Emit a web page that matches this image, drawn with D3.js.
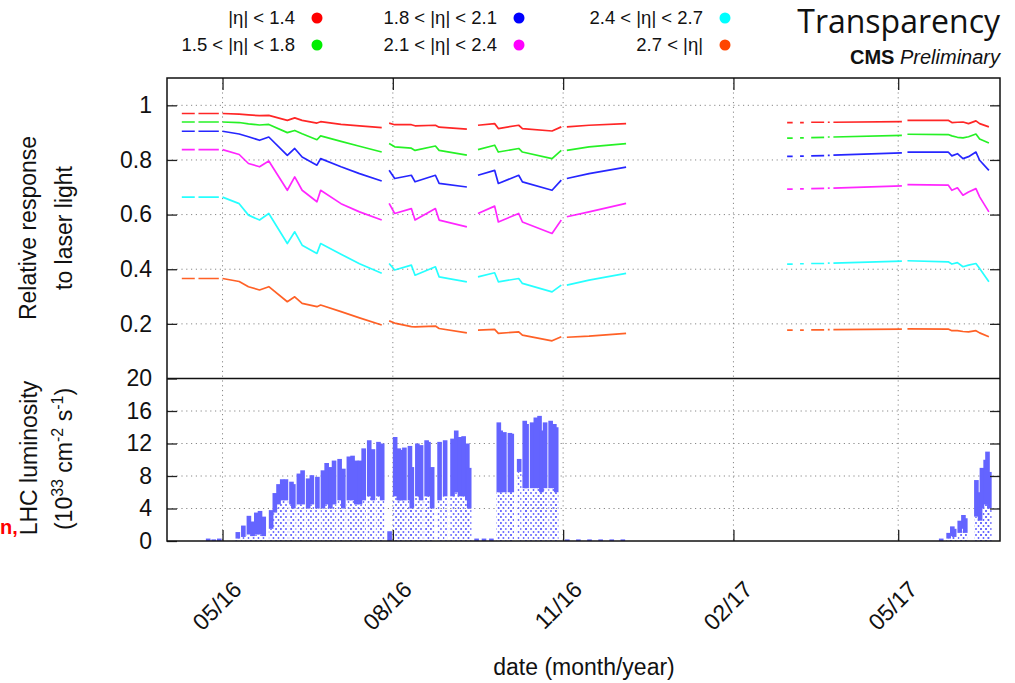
<!DOCTYPE html>
<html>
<head>
<meta charset="utf-8">
<script src="https://d3js.org/d3.v7.min.js"></script>
<style>
    body { margin: 0; background: #fff; }
    svg { font-family: "Liberation Sans", Arial, sans-serif; }
    .grid { stroke: #888; stroke-width: 1; stroke-dasharray: 1.2,3.6; }
    .tick line { stroke: #222; stroke-width: 1.3; }
    .tick text { font-size: 23px; fill: #111; }
    .frame { fill: none; stroke: #111; stroke-width: 1.5; }
    .axisLabel { font-size: 23px; fill: #111; }
    .legendText { font-size: 18.5px; fill: #111; }
    .series { fill: none; stroke-width: 1.7; stroke-opacity: 0.85; stroke-linejoin: round; }
</style>
</head>
<body>
<script>
(function() {

    //series names and colours
    var seriesNames = ["|η| < 1.4", "1.5 < |η| < 1.8", "1.8 < |η| < 2.1", "2.1 < |η| < 2.4", "2.4 < |η| < 2.7", "2.7 < |η|"];
    var seriesColors = ["#ff0000", "#00ee00", "#0000ff", "#ff00ff", "#00ffff", "#ff4500"];

    //sample dates of the laser response (null values mark gaps)
    var sampleDates = ["2016-04-09","2016-04-16","2016-04-17","2016-04-18","2016-04-29","2016-04-30",
        "2016-05-01","2016-05-10","2016-05-15","2016-05-21","2016-05-26","2016-06-05","2016-06-09",
        "2016-06-13","2016-06-21","2016-06-23","2016-07-04","2016-07-14","2016-07-26","2016-07-28",
        "2016-07-30","2016-08-02","2016-08-11","2016-08-13","2016-08-24","2016-08-26","2016-09-10","2016-09-13",
        "2016-09-16","2016-09-25","2016-09-27","2016-10-08","2016-10-10","2016-10-26","2016-10-31","2016-11-02",
        "2016-11-03","2016-11-15","2016-12-05","2016-12-06",
        "2017-03-02","2017-03-05","2017-03-07","2017-03-09","2017-03-11","2017-03-13","2017-03-15","2017-03-22",
        "2017-03-23","2017-03-24","2017-03-25","2017-03-26","2017-03-27","2017-05-03","2017-05-04",
        "2017-05-06","2017-05-28","2017-05-30","2017-06-02","2017-06-05","2017-06-08","2017-06-12","2017-06-14","2017-06-19"];

    var eta14 = [.970,.970,null,.970,.970,null,.970,.968,.965,.962,.963,.945,.954,.945,.935,.940,.930,.925,.918,null,
        .935,.929,.929,.925,.927,.920,.913,null,.927,.933,.915,.927,.915,.906,.921,null,.921,.927,.933,null,
        .937,.937,null,.937,.937,null,.938,.938,null,.938,.938,null,.938,.940,null,
        .945,.945,.937,.938,.939,.933,.943,.933,.921];
    var eta18 = [.939,.939,null,.939,.939,null,.939,.937,.932,.928,.930,.900,.908,.896,.874,.888,.868,.850,.829,null,
        .860,.848,.843,.835,.851,.835,.818,null,.838,.854,.829,.842,.829,.805,.835,null,.835,.848,.860,null,
        .880,.880,null,.881,.881,null,.882,.883,null,.884,.884,null,.884,.890,null,
        .894,.893,.888,.883,.881,.885,.895,.877,.862];
    var eta21 = [.905,.905,null,.905,.905,null,.905,.895,.885,.872,.884,.817,.842,.811,.781,.805,.775,.750,.723,null,
        .762,.732,.744,.720,.744,.714,.701,null,.744,.762,.714,.744,.720,.689,.726,null,.732,.750,.774,null,
        .813,.813,null,.814,.814,null,.815,.816,null,.817,.817,null,.818,.826,null,
        .829,.829,.815,.823,.805,.812,.829,.799,.762];
    var eta24 = [.838,.838,null,.838,.838,null,.838,.820,.787,.775,.796,.689,.738,.689,.647,.689,.640,.610,.580,null,
        .641,.604,.622,.580,.622,.580,.555,null,.604,.631,.573,.604,.573,.531,.580,null,.592,.610,.641,null,
        .693,.693,null,.694,.694,null,.695,.696,null,.697,.697,null,.697,.705,null,
        .710,.708,.689,.698,.671,.683,.695,.665,.610];
    var eta27 = [.664,.664,null,.664,.664,null,.664,.640,.598,.580,.604,.494,.537,.488,.458,.494,.455,.420,.385,null,
        .421,.397,.415,.378,.409,.372,.354,null,.372,.387,.354,.366,.348,.317,.342,null,.342,.360,.385,null,
        .419,.419,null,.420,.420,null,.421,.421,null,.422,.422,null,.422,.430,null,
        .431,.427,.419,.424,.409,.415,.421,.403,.354];
    var etaFwd = [.366,.366,null,.366,.366,null,.366,.355,.336,.324,.336,.281,.299,.275,.263,.269,.245,.222,.196,null,
        .211,.203,.190,.189,.192,.183,.167,null,.177,.180,.165,.171,.159,.138,.153,null,.151,.155,.165,null,
        .177,.177,null,.177,.177,null,.178,.178,null,.179,.179,null,.179,.181,null,
        .182,.181,.175,.175,.172,.171,.175,.167,.153];

    //LHC luminosity (10^33 cm^-2 s^-1): date, peak of the fills, lower edge of the dense band
    var lumiDates = ["2016-04-22","2016-04-25","2016-04-28",
        "2016-05-08","2016-05-11","2016-05-14","2016-05-16","2016-05-18","2016-05-20","2016-05-22",
        "2016-05-26","2016-05-28","2016-05-30","2016-06-01","2016-06-03","2016-06-06","2016-06-07",
        "2016-06-10","2016-06-12","2016-06-15","2016-06-17","2016-06-20",
        "2016-06-23","2016-06-25","2016-06-27","2016-06-29","2016-07-02","2016-07-04","2016-07-07","2016-07-09",
        "2016-07-11","2016-07-13","2016-07-15","2016-07-18","2016-07-20","2016-07-23","2016-07-25",
        "2016-07-29",
        "2016-08-01","2016-08-03","2016-08-04","2016-08-06","2016-08-09","2016-08-10",
        "2016-08-13","2016-08-15","2016-08-18","2016-08-19","2016-08-21",
        "2016-08-25","2016-08-28","2016-09-01","2016-09-03","2016-09-05","2016-09-07","2016-09-09","2016-09-10",
        "2016-09-14","2016-09-18","2016-09-22",
        "2016-09-26","2016-09-27","2016-09-29","2016-10-02","2016-10-03",
        "2016-10-07",
        "2016-10-10","2016-10-11","2016-10-14","2016-10-16","2016-10-18","2016-10-19","2016-10-21","2016-10-24","2016-10-26","2016-10-27",
        "2016-11-02","2016-11-08","2016-11-14","2016-11-20","2016-11-26","2016-12-02",
        "2017-05-23","2017-05-27","2017-05-29","2017-05-30","2017-06-02","2017-06-04","2017-06-05",
        "2017-06-11","2017-06-13","2017-06-14","2017-06-16","2017-06-17","2017-06-18"];
    var lumiPeak = [0.3,0.2,0.3,
        1.1,1.9,3.1,2.4,3.5,3.7,3.0,
        3.8,5.9,7.0,7.6,7.6,7.3,7.0,
        8.3,8.7,7.7,8.1,7.9,
        8.7,9.6,9.1,9.9,10.1,8.9,10.4,10.5,9.9,9.9,11.4,12.4,11.3,12.2,12.0,
        1.2,
        12.8,11.4,11.2,11.5,11.7,9.1,
        12.0,11.8,12.4,12.2,9.1,
        12.2,12.4,12.6,13.6,12.8,12.9,12.0,9.0,
        0.3,0.3,0.3,
        14.6,13.6,13.4,13.3,13.2,
        10.1,
        14.8,14.4,14.6,15.2,15.4,13.6,14.6,14.8,14.4,14.0,
        0.2,0.2,0.2,0.2,0.2,0.2,
        0.3,1.0,1.8,1.5,2.5,3.2,2.8,7.5,6.0,9.0,10.0,11.0,8.5];
    var lumiCore = [0,0,0,
        0.3,0.5,0.8,0.6,0.8,0.8,0.6,
        1.5,3.5,4.5,5.0,5.0,4.5,4.0,
        4.5,4.5,4.0,4.5,4.0,
        4.0,4.5,4.0,4.5,5.0,4.0,5.0,5.0,4.5,4.5,5.0,5.5,5.0,5.5,5.0,
        0,
        5.5,5.0,5.0,5.0,5.0,4.0,
        5.5,5.0,5.5,5.5,4.0,
        5.0,5.5,5.5,6.0,5.5,5.5,5.0,4.0,
        0,0,0,
        6.0,6.0,6.0,6.0,6.0,
        8.5,
        6.5,6.5,6.5,6.5,6.5,6.0,6.5,6.5,6.5,6.0,
        0,0,0,0,0,0,
        0,0.3,0.6,0.5,1.0,1.5,1.0,3.0,2.5,4.0,4.5,5.0,4.0];

    //axis ticks
    var xTicks = ["2016-05-01", "2016-08-01", "2016-11-01", "2017-02-01", "2017-05-01"];
    var xDomain = ["2016-04-01", "2017-06-25"];
    var respTicks = [0.2, 0.4, 0.6, 0.8, 1];
    var lumiTicks = [0, 4, 8, 12, 16, 20];

    window.onload = setChart();

    function setChart() {
        var width = 1015, height = 683;
        var left = 167, right = 1000, top = 78, split = 378.5, bottom = 541;
        var parseDate = d3.timeParse("%Y-%m-%d");

        var svg = d3.select("body")
            .append("svg")
            .attr("width", width)
            .attr("height", height);

        //scales
        var x = d3.scaleTime()
            .domain(xDomain.map(parseDate))
            .range([left, right]);
        var yResp = d3.scaleLinear()
            .domain([0, 1.1])
            .range([split, top]);
        var yLumi = d3.scaleLinear()
            .domain([0, 20])
            .range([bottom, split]);

        var tickDates = xTicks.map(parseDate);

        //dotted grid
        var grid = svg.append("g");
        grid.selectAll(".gx")
            .data(tickDates)
            .enter()
            .append("line")
            .attr("class", "grid")
            .attr("x1", d => x(d)).attr("x2", d => x(d))
            .attr("y1", top).attr("y2", bottom);
        grid.selectAll(".gy")
            .data(respTicks)
            .enter()
            .append("line")
            .attr("class", "grid")
            .attr("x1", left).attr("x2", right)
            .attr("y1", d => yResp(d)).attr("y2", d => yResp(d));
        grid.selectAll(".gl")
            .data(lumiTicks.slice(1, -1))
            .enter()
            .append("line")
            .attr("class", "grid")
            .attr("x1", left).attr("x2", right)
            .attr("y1", d => yLumi(d)).attr("y2", d => yLumi(d));

        //luminosity panel
        var defs = svg.append("defs");
        var pattern = defs.append("pattern")
            .attr("id", "scatter")
            .attr("width", 5).attr("height", 6)
            .attr("patternUnits", "userSpaceOnUse");
        pattern.append("circle").attr("cx", 1).attr("cy", 1).attr("r", 1).attr("fill", "#6464ff");
        pattern.append("circle").attr("cx", 3.5).attr("cy", 4).attr("r", 0.9).attr("fill", "#6464ff");

        var lumi = lumiDates.map(function(d, i) {
            return { date: parseDate(d), peak: lumiPeak[i], core: lumiCore[i] };
        });
        var barW = function(d) { return x(d3.timeHour.offset(d.date, 60)) - x(d.date); };

        svg.append("g").selectAll("rect")
            .data(lumi)
            .enter()
            .append("rect")
            .attr("x", d => x(d.date))
            .attr("width", barW)
            .attr("y", d => yLumi(d.core))
            .attr("height", d => yLumi(0) - yLumi(d.core))
            .attr("fill", "url(#scatter)");
        svg.append("g").selectAll("rect")
            .data(lumi)
            .enter()
            .append("rect")
            .attr("x", d => x(d.date))
            .attr("width", barW)
            .attr("y", d => yLumi(d.peak))
            .attr("height", d => Math.max(1.5, yLumi(d.core) - yLumi(d.peak)))
            .attr("fill", "#6464ff");

        //laser response series
        var allSeries = [eta14, eta18, eta21, eta24, eta27, etaFwd];
        var dates = sampleDates.map(parseDate);
        var line = d3.line()
            .defined(d => d.v != null)
            .x(d => x(d.date))
            .y(d => yResp(d.v));

        allSeries.forEach(function(vals, k) {
            var pts = vals.map(function(v, i) { return { date: dates[i], v: v }; });
            svg.append("path")
                .datum(pts)
                .attr("class", "series")
                .attr("stroke", seriesColors[k])
                .attr("d", line);
        });

        //axes
        var axLeftTop = svg.append("g")
            .attr("transform", "translate(" + left + ",0)")
            .call(d3.axisLeft(yResp).tickValues(respTicks).tickSize(-10).tickPadding(15).tickFormat(d3.format("")));
        var axLeftBot = svg.append("g")
            .attr("transform", "translate(" + left + ",0)")
            .call(d3.axisLeft(yLumi).tickValues(lumiTicks).tickSize(-10).tickPadding(15));
        var axRightTop = svg.append("g")
            .attr("transform", "translate(" + right + ",0)")
            .call(d3.axisRight(yResp).tickValues(respTicks).tickSize(-10).tickFormat(""));
        var axRightBot = svg.append("g")
            .attr("transform", "translate(" + right + ",0)")
            .call(d3.axisRight(yLumi).tickValues(lumiTicks.slice(1, -1)).tickSize(-10).tickFormat(""));
        var axTop = svg.append("g")
            .attr("transform", "translate(0," + top + ")")
            .call(d3.axisTop(x).tickValues(tickDates).tickSize(-12).tickFormat(""));
        var axBottom = svg.append("g")
            .attr("transform", "translate(0," + bottom + ")")
            .call(d3.axisBottom(x).tickValues(tickDates).tickSize(-11).tickFormat(d3.timeFormat("%m/%y")));

        [axLeftTop, axLeftBot, axRightTop, axRightBot, axTop, axBottom].forEach(function(a) {
            a.select(".domain").remove();
        });

        //rotated date labels
        axBottom.selectAll("text")
            .attr("x", 0).attr("y", 0).attr("dy", 0)
            .attr("text-anchor", "end")
            .attr("transform", "translate(20,50) rotate(-45)");

        //frames
        svg.append("rect")
            .attr("class", "frame")
            .attr("x", left).attr("y", top)
            .attr("width", right - left).attr("height", bottom - top);
        svg.append("line")
            .attr("x1", left).attr("x2", right)
            .attr("y1", split).attr("y2", split)
            .attr("stroke", "#111").attr("stroke-width", 1.5);

        //axis titles
        svg.append("text")
            .attr("class", "axisLabel")
            .attr("text-anchor", "middle")
            .attr("x", 584).attr("y", 675)
            .text("date (month/year)");

        var yLab1 = svg.append("text")
            .attr("class", "axisLabel")
            .attr("text-anchor", "middle")
            .attr("transform", "translate(36,228) rotate(-90)");
        yLab1.append("tspan").attr("x", 0).attr("y", 0).text("Relative response");
        yLab1.append("tspan").attr("x", 0).attr("y", 36).text("to laser light");

        svg.append("text")
            .attr("class", "axisLabel")
            .attr("text-anchor", "middle")
            .attr("transform", "translate(37,458) rotate(-90)")
            .text("LHC luminosity");
        var unit = svg.append("text")
            .attr("class", "axisLabel")
            .attr("text-anchor", "middle")
            .attr("transform", "translate(72,459) rotate(-90)");
        unit.append("tspan").text("(10");
        unit.append("tspan").attr("dy", -9).attr("font-size", "16px").text("33");
        unit.append("tspan").attr("dy", 9).text(" cm");
        unit.append("tspan").attr("dy", -9).attr("font-size", "16px").text("-2");
        unit.append("tspan").attr("dy", 9).text(" s");
        unit.append("tspan").attr("dy", -9).attr("font-size", "16px").text("-1");
        unit.append("tspan").attr("dy", 9).text(")");

        //small red text fragment at the left border
        svg.append("text")
            .attr("x", 0).attr("y", 534)
            .attr("font-size", "20px")
            .attr("font-weight", "bold")
            .attr("fill", "#ff0000")
            .text("n,");

        //legend
        var legX = [295, 497, 703];
        var legY = [18, 45];
        var legend = svg.append("g");
        seriesNames.forEach(function(name, i) {
            var col = Math.floor(i / 2), row = i % 2;
            legend.append("text")
                .attr("class", "legendText")
                .attr("x", legX[col]).attr("y", legY[row])
                .attr("dy", "0.35em")
                .attr("text-anchor", "end")
                .text(name);
            legend.append("circle")
                .attr("cx", legX[col] + 22).attr("cy", legY[row])
                .attr("r", 5.5)
                .attr("fill", seriesColors[i]);
        });

        //title
        svg.append("text")
            .attr("x", 1000).attr("y", 33)
            .attr("text-anchor", "end")
            .attr("font-family", "'Open Sans', sans-serif")
            .attr("font-size", "32px")
            .attr("fill", "#111")
            .text("Transparency");
        var cms = svg.append("text")
            .attr("x", 1000).attr("y", 64)
            .attr("text-anchor", "end")
            .attr("font-size", "20px")
            .attr("fill", "#111");
        cms.append("tspan").attr("font-weight", "bold").text("CMS ");
        cms.append("tspan").attr("font-style", "italic").text("Preliminary");
    }

})();
</script>
</body>
</html>
